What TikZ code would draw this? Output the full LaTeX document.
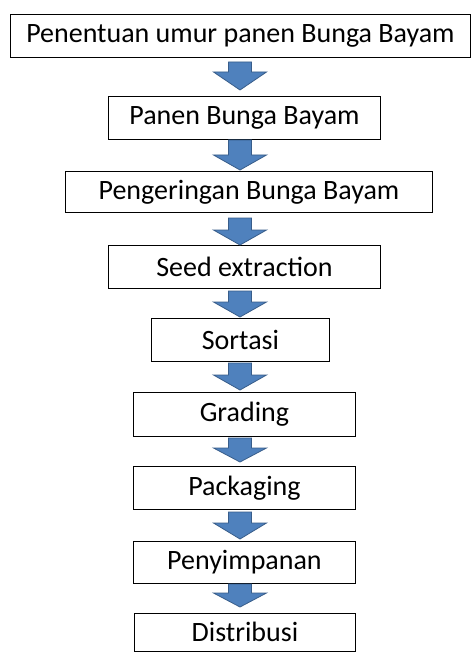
\documentclass[tikz,border=0pt]{standalone}
\usepackage{fontspec}
\setmainfont{Carlito}
\tikzset{
  box/.style={draw=black, line width=0.9pt, fill=white, inner sep=0pt, anchor=north west,
    font=\fontsize{28}{33}\selectfont, align=center},
  blockarrow/.style={fill={rgb,255:red,79;green,129;blue,189}, draw={rgb,255:red,56;green,93;blue,138}, line width=0.8pt, line join=miter}
}
\newcommand{\mkbox}[6]{% name, x1, y1, x2, y2, text
  \path (#2,#3) coordinate (#1-nw) (#4,#5) coordinate (#1-se);
  \node[box, minimum width={#4-#2}, minimum height={#5-#3}] (#1) at (#2,#3) {#6};
}
\begin{document}
\begin{tikzpicture}[x=1pt,y=-1pt]
\useasboundingbox (0,0) rectangle (471,652);
\fill[white] (0,0) rectangle (471,652);
\mkbox{b1}{10}{14}{470}{57}{Penentuan umur panen Bunga Bayam}
\mkbox{b2}{108}{96}{380}{139}{Panen Bunga Bayam}
\mkbox{b3}{65}{171}{432}{212}{Pengeringan Bunga Bayam}
\mkbox{b4}{108}{245}{380}{288}{Seed extraction}
\mkbox{b5}{151}{318}{329}{361}{Sortasi}
\mkbox{b6}{133}{392}{355}{436}{Grading}
\mkbox{b7}{133}{466}{355}{509}{Packaging}
\mkbox{b8}{133}{541}{355}{583}{Penyimpanan}
\mkbox{b9}{134}{613}{355}{650.5}{Distribusi}
\foreach \t/\h/\p in {62/72/90, 140/155/170, 218/230/245, 291/302/317, 363/375/390, 438/448/462, 512/523/539, 584/593/607}{
  \draw[blockarrow] (228.5,\t) -- (251.5,\t) -- (251.5,\h) -- (266.5,\h) -- (240,\p) -- (213.5,\h) -- (228.5,\h) -- cycle;
}
\end{tikzpicture}
\end{document}
